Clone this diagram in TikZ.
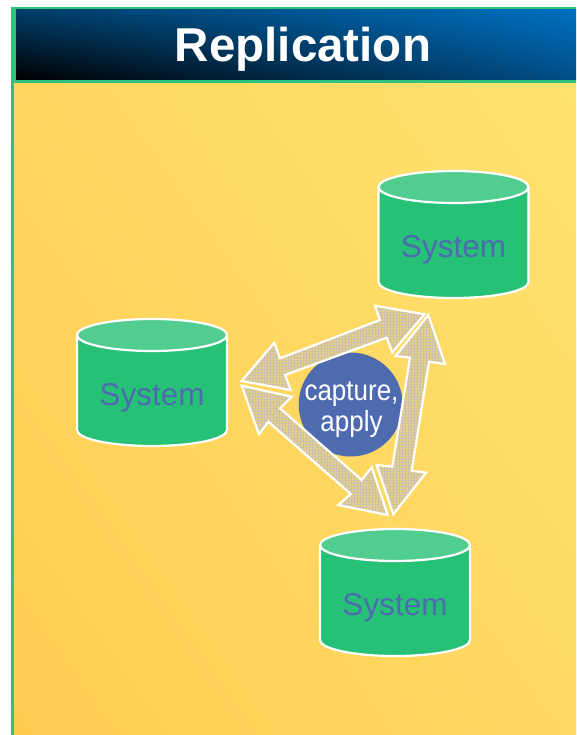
\documentclass[tikz,border=0pt]{standalone}
\usepackage{fontspec}
\setmainfont{Liberation Sans}
\usetikzlibrary{patterns.meta,shadings}
\definecolor{framegreen}{HTML}{2FC27C}
\definecolor{cylgreen}{HTML}{27C077}
\definecolor{cyltop}{HTML}{52CD90}
\definecolor{sysblue}{HTML}{4F6BB0}
\definecolor{hubblue}{HTML}{4F6BB0}
\definecolor{warmlow}{HTML}{FFCC50}
\definecolor{warmhigh}{HTML}{FFE371}
\definecolor{bluehigh}{HTML}{0070C0}
\definecolor{arrowfill}{HTML}{E8CF8C}
\definecolor{arrowgrid}{HTML}{C8C2AC}
\tikzset{
  x=1pt,y=-1pt,
  cylline/.style={draw=white,line width=2.2pt,line join=round},
  blockarrow/.style={fill=arrowfill,
    postaction={pattern={Lines[angle=0,distance=3pt,line width=.35pt]},pattern color=arrowgrid},
    postaction={pattern={Lines[angle=90,distance=3pt,line width=.35pt]},pattern color=arrowgrid},
    postaction={draw=white,line width=2.2pt,line join=miter}},
  systext/.style={text=sysblue,font=\fontsize{31.5}{34}\selectfont,inner sep=0pt},
  pics/store/.style={code={
    \path[fill=cylgreen,cylline] (-75,-48) -- (-75,47) arc[start angle=180,end angle=0,x radius=75,y radius=16] -- (75,-48) -- cycle;
    \path[fill=cyltop,cylline] (0,-48) ellipse[x radius=75,y radius=16];
  }}
}
\begin{document}
\begin{tikzpicture}
\useasboundingbox (0,0) rectangle (576,735);
\fill[white] (0,0) rectangle (576,735);
% panel and frame
\shade[lower left=warmlow,lower right=warmhigh!55!warmlow,upper left=warmlow!55!warmhigh,upper right=warmhigh] (12.5,81) rectangle (576,735);
\fill[framegreen] (11,7) rectangle (13.5,735);
\fill[framegreen] (11,7) rectangle (576,83);
\shade[lower left=black,lower right=bluehigh!70!black,upper left=bluehigh!55!black,upper right=bluehigh] (16,9.5) rectangle (576,79.5);
\node[text=white,font=\bfseries\fontsize{47.5}{50}\selectfont,inner sep=0pt] (title) at (303,49) {Replication};
% hub beneath the arrows
\fill[hubblue] (350.7,404.5) circle[radius=52];
% block arrows
\path[blockarrow] (241.7,381) -- (274.3,342.7) -- (280,358.3) -- (380,320) -- (375,305.7) -- (424.3,314.3) -- (392.3,352.3) -- (386.7,337.7) -- (285,375) -- (290.7,390) -- cycle;
\path[blockarrow] (428.3,315) -- (445,364) -- (429,361.7) -- (411.7,470.7) -- (426,472.7) -- (393.3,514.3) -- (376.7,465) -- (392.3,466.7) -- (410,357.7) -- (395.7,356) -- cycle;
\path[blockarrow] (241.7,385.7) -- (291.7,396.7) -- (280,408.3) -- (361.7,480) -- (371.7,467.3) -- (387.7,515) -- (338.3,505) -- (350.7,494) -- (268.3,421.7) -- (259,434.3) -- cycle;
% cylinders
\pic at (453.5,235) {store};
\pic at (152,383) {store};
\pic at (395,593) {store};
\node[systext] (sysa) at (453.5,250) {System};
\node[systext] (sysb) at (152,398) {System};
\node[systext] (sysc) at (395,608) {System};
\node[text=white,align=center,inner sep=0pt,font=\fontsize{26}{27}\selectfont,yscale=1.12] (hub) at (351.5,409.5) {capture,\\apply};
\end{tikzpicture}
\end{document}
